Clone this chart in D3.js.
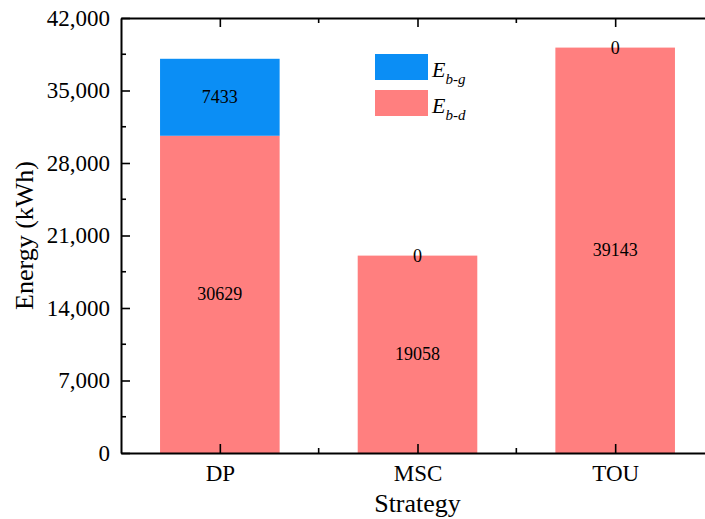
<!DOCTYPE html>
<html>
<head>
<meta charset="utf-8">
<script src="https://cdn.jsdelivr.net/npm/d3@7"></script>
<style>
  html, body { margin: 0; padding: 0; background: #fff; }
  svg { display: block; }
  svg text { font-family: 'Liberation Serif', 'Times New Roman', Times, 'DejaVu Serif', serif !important; fill: #000; }
</style>
</head>
<body>
<svg id="chart" width="705" height="519"></svg>
<script>
const categories = ["DP", "MSC", "TOU"];
const seriesNames = ["E_b-d", "E_b-g"];
const Ebd = [30629, 19058, 39143];
const Ebg = [7433, 0, 0];
const yTicks = [0, 7000, 14000, 21000, 28000, 35000, 42000];
const colors = { "E_b-d": "#ff7f7f", "E_b-g": "#0b8ef5" };

const svg = d3.select("#chart");
const m = { left: 121, right: 714, top: 18, bottom: 453 };

const x = d3.scaleLinear().domain([0.5, 3.5]).range([m.left, m.right]);
const y = d3.scaleLinear().domain([0, 42000]).range([m.bottom, m.top]);
const barW = (x(2) - x(1)) * 0.605;

const table = categories.map((c, i) => ({ cat: c, idx: i + 1, "E_b-d": Ebd[i], "E_b-g": Ebg[i] }));
const stacked = d3.stack().keys(seriesNames)(table);

stacked.forEach(layer => {
  svg.append("g").selectAll("rect").data(layer).join("rect")
    .attr("x", d => x(d.data.idx) - barW / 2)
    .attr("width", barW)
    .attr("y", d => y(d[1]))
    .attr("height", d => y(d[0]) - y(d[1]))
    .attr("fill", colors[layer.key]);
});

stacked.forEach(layer => {
  svg.append("g").selectAll("text").data(layer).join("text")
    .attr("x", d => x(d.data.idx))
    .attr("y", d => y((d[0] + d[1]) / 2))
    .attr("text-anchor", "middle")
    .attr("dominant-baseline", "central")
    .style("font-size", "18px")
    .text(d => d.data[layer.key]);
});

const minorY = d3.range(0, 42001, 3500);
const axisColor = "#000";
function yAxis(g, side) {
  const ax = (side === "left" ? d3.axisLeft(y) : d3.axisRight(y))
    .tickValues(yTicks).tickSizeInner(-9).tickSizeOuter(0)
    .tickPadding(11).tickFormat(d3.format(","));
  g.call(ax);
  g.attr("font-family", null);
  g.select(".domain").attr("stroke-width", 2);
  g.selectAll(".tick line").attr("stroke-width", 1.6);
  g.selectAll(".tick text").style("font-size", "23px");
  if (side === "right") g.selectAll(".tick text").remove();
  const dir = side === "left" ? 1 : -1;
  g.selectAll(".minor").data(minorY.filter(v => yTicks.indexOf(v) < 0)).join("line")
    .attr("class", "minor")
    .attr("x1", 0).attr("x2", 5 * dir)
    .attr("y1", d => y(d)).attr("y2", d => y(d))
    .attr("stroke", axisColor).attr("stroke-width", 1.6);
}
function xAxis(g, side) {
  const ax = (side === "bottom" ? d3.axisBottom(x) : d3.axisTop(x))
    .tickValues([1, 2, 3]).tickSizeInner(-9).tickSizeOuter(0)
    .tickPadding(12).tickFormat(d => categories[d - 1]);
  g.call(ax);
  g.attr("font-family", null);
  g.select(".domain").attr("stroke-width", 2);
  g.selectAll(".tick line").attr("stroke-width", 1.6);
  g.selectAll(".tick text").style("font-size", "23px");
  if (side === "top") g.selectAll(".tick text").remove();
  const dir = side === "bottom" ? -1 : 1;
  g.selectAll(".minor").data([1.5, 2.5]).join("line")
    .attr("class", "minor")
    .attr("y1", 0).attr("y2", 5 * dir)
    .attr("x1", d => x(d)).attr("x2", d => x(d))
    .attr("stroke", axisColor).attr("stroke-width", 1.6);
}
svg.append("g").attr("transform", `translate(0,${m.bottom})`).call(g => xAxis(g, "bottom"));
svg.append("g").attr("transform", `translate(0,${m.top})`).call(g => xAxis(g, "top"));
svg.append("g").attr("transform", `translate(${m.left},0)`).call(g => yAxis(g, "left"));
svg.append("g").attr("transform", `translate(${m.right},0)`).call(g => yAxis(g, "right"));

svg.append("text")
  .attr("x", x(2)).attr("y", 512)
  .attr("text-anchor", "middle").style("font-size", "26px").text("Strategy");
svg.append("text")
  .attr("transform", `translate(33,${(m.top + m.bottom) / 2}) rotate(-90)`)
  .attr("text-anchor", "middle").style("font-size", "26px").text("Energy (kWh)");

const legendItems = [
  { key: "E_b-g", sub: "b-g", y: 54 },
  { key: "E_b-d", sub: "b-d", y: 90 }
];
const lg = svg.append("g");
legendItems.forEach(it => {
  lg.append("rect").attr("x", 375).attr("y", it.y).attr("width", 53).attr("height", 26)
    .attr("fill", colors[it.key]);
  const t = lg.append("text").attr("x", 432).attr("y", it.y + 23)
    .style("font-style", "italic").style("font-size", "22px");
  t.append("tspan").text("E");
  t.append("tspan").attr("dy", 7).style("font-size", "15px").text(it.sub);
});
</script>
</body>
</html>
